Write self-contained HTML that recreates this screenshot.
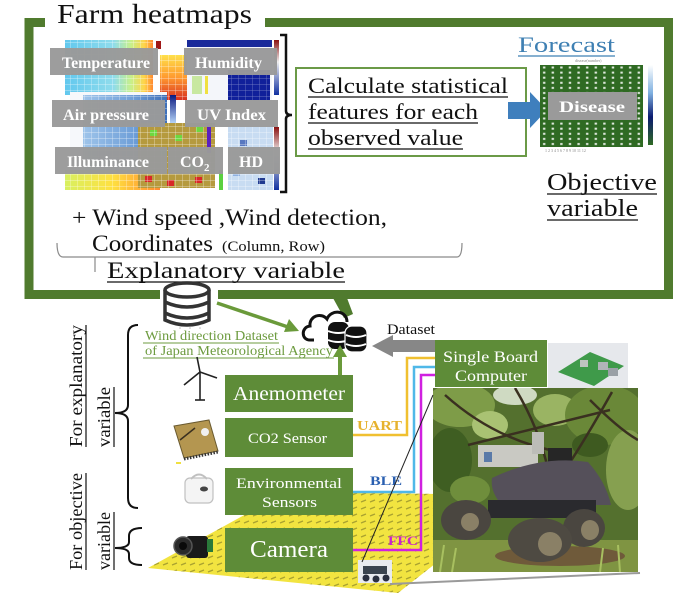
<!DOCTYPE html>
<html>
<head>
<meta charset="utf-8">
<style>
html,body{margin:0;padding:0;background:#fff;}
svg{display:block;}
text{font-family:"Liberation Serif",serif;}
</style>
</head>
<body>
<svg width="694" height="594" viewBox="0 0 694 594" xmlns="http://www.w3.org/2000/svg">
<defs>
  <pattern id="grid" width="7" height="6" patternUnits="userSpaceOnUse">
    <path d="M0,0 H7 M0,0 V6" stroke="#ffffff" stroke-width="0.7" fill="none" opacity="0.8"/>
  </pattern>
  <pattern id="dots" width="8.6" height="5.1" patternUnits="userSpaceOnUse" x="540" y="65">
    <rect x="3" y="1.5" width="2.4" height="2" fill="#ffffff" opacity="0.85"/>
  </pattern>
  <pattern id="field" width="9" height="7" patternUnits="userSpaceOnUse">
    <path d="M1,5 L6,3" stroke="#a9a230" stroke-width="1.4"/>
  </pattern>
  <linearGradient id="gTemp" x1="0" x2="1" y1="0" y2="0">
    <stop offset="0" stop-color="#62c8ee"/>
    <stop offset="0.55" stop-color="#8fdcec"/>
    <stop offset="0.75" stop-color="#c8f08a"/>
    <stop offset="0.9" stop-color="#ffd44a"/>
    <stop offset="1" stop-color="#ff8a30"/>
  </linearGradient>
  <linearGradient id="gPpm" x1="0" x2="0" y1="0" y2="1">
    <stop offset="0" stop-color="#ffe04a"/>
    <stop offset="0.5" stop-color="#ff9a30"/>
    <stop offset="1" stop-color="#d83020"/>
  </linearGradient>
  <linearGradient id="gHum" x1="0" x2="1" y1="0" y2="0">
    <stop offset="0" stop-color="#9ec4ea"/>
    <stop offset="0.6" stop-color="#6f9fd8"/>
    <stop offset="1" stop-color="#3e6fb8"/>
  </linearGradient>
  <linearGradient id="gIll" x1="0" x2="1" y1="0" y2="0">
    <stop offset="0" stop-color="#d8f060"/>
    <stop offset="0.5" stop-color="#ffe040"/>
    <stop offset="1" stop-color="#ff8a30"/>
  </linearGradient>
  <linearGradient id="gCbar" x1="0" x2="0" y1="0" y2="1">
    <stop offset="0" stop-color="#ffffff"/>
    <stop offset="0.35" stop-color="#7fb0e0"/>
    <stop offset="0.65" stop-color="#0a1a70"/>
    <stop offset="1" stop-color="#2f6a23"/>
  </linearGradient>
  <linearGradient id="gRB" x1="0" x2="0" y1="0" y2="1">
    <stop offset="0" stop-color="#8a1010"/>
    <stop offset="0.4" stop-color="#f0f0f0"/>
    <stop offset="1" stop-color="#1030a0"/>
  </linearGradient>
  <linearGradient id="gBlueBar" x1="0" x2="0" y1="0" y2="1">
    <stop offset="0" stop-color="#0a1a80"/>
    <stop offset="1" stop-color="#c0e0ff"/>
  </linearGradient>
  <clipPath id="photoClip"><rect x="433" y="388" width="205" height="184"/></clipPath>
</defs>

<!-- ================= TOP FRAME ================= -->
<rect x="29" y="22.5" width="639.5" height="272" fill="none" stroke="#507b2e" stroke-width="9"/>
<rect x="45" y="10" width="220" height="20" fill="#fff"/>
<text x="57" y="23" font-size="27" textLength="195" lengthAdjust="spacingAndGlyphs" fill="#111">Farm heatmaps</text>

<polygon points="333,298 347,298 353,314 344,318" fill="#507b2e"/>

<!-- ================= HEATMAPS ================= -->
<rect x="65" y="40" width="88" height="55" fill="url(#gTemp)"/>
<rect x="65" y="40" width="88" height="55" fill="url(#grid)"/>
<rect x="156" y="41" width="5" height="8" fill="#a01818"/>
<rect x="160" y="55" width="30" height="45" fill="url(#gPpm)"/>
<rect x="160" y="55" width="30" height="45" fill="url(#grid)"/>
<rect x="187" y="40" width="85" height="60" fill="#f4f6fa"/>
<rect x="187" y="40" width="85" height="7" fill="#1a2a9a"/>
<rect x="205" y="76" width="3" height="18" fill="#f0e040"/>
<rect x="192" y="76" width="10" height="18" fill="#c8e8a0"/>
<rect x="228" y="70" width="42" height="30" fill="#10209a"/>
<rect x="228" y="70" width="42" height="30" fill="url(#grid)" opacity="0.6"/>
<rect x="274" y="40" width="5" height="55" fill="url(#gRB)"/>
<rect x="70" y="92" width="97" height="78" fill="#f6f8fb"/>
<rect x="83" y="95" width="84" height="75" fill="url(#gHum)"/>
<rect x="83" y="95" width="84" height="75" fill="url(#grid)"/>
<rect x="170" y="95" width="6" height="30" fill="url(#gBlueBar)"/>
<rect x="65" y="170" width="95" height="20" fill="url(#gIll)"/>
<rect x="65" y="170" width="95" height="20" fill="url(#grid)"/>
<rect x="138" y="123" width="77" height="65" fill="#b59a3e"/>
<rect x="150" y="130" width="7" height="6" fill="#6ed840"/>
<rect x="175" y="135" width="7" height="6" fill="#6ed840"/>
<rect x="196" y="126" width="7" height="6" fill="#6ed840"/>
<rect x="160" y="150" width="7" height="6" fill="#6ed840"/>
<rect x="188" y="165" width="7" height="6" fill="#6ed840"/>
<rect x="145" y="176" width="7" height="6" fill="#d82828"/>
<rect x="167" y="180" width="7" height="6" fill="#d82828"/>
<rect x="195" y="177" width="7" height="6" fill="#d82828"/>
<rect x="138" y="123" width="77" height="65" fill="url(#grid)"/>
<rect x="207" y="125" width="4" height="28" fill="#5a20c0"/>
<rect x="219" y="170" width="4" height="20" fill="#5ad040"/>
<rect x="228" y="127" width="45" height="63" fill="#c8dcf2"/>
<rect x="240" y="140" width="7" height="6" fill="#5878c0"/>
<rect x="258" y="178" width="7" height="6" fill="#203a90"/>
<rect x="233" y="170" width="7" height="6" fill="#8fb0e0"/>
<rect x="228" y="127" width="45" height="63" fill="url(#grid)"/>
<rect x="274" y="127" width="5" height="63" fill="url(#gRB)"/>

<g fill="#9a9a9a" opacity="0.97">
  <rect x="50" y="48" width="108" height="27"/>
  <rect x="184" y="48" width="93" height="27"/>
  <rect x="52" y="100" width="113" height="27"/>
  <rect x="185" y="100" width="93" height="27"/>
  <rect x="55" y="147" width="112" height="27"/>
  <rect x="168" y="147" width="55" height="27"/>
  <rect x="228" y="147" width="52" height="27"/>
</g>
<g fill="#fff" font-weight="bold" font-size="16">
  <text x="62" y="68" textLength="88" lengthAdjust="spacingAndGlyphs">Temperature</text>
  <text x="195" y="68" textLength="67" lengthAdjust="spacingAndGlyphs">Humidity</text>
  <text x="63" y="120" textLength="86" lengthAdjust="spacingAndGlyphs">Air pressure</text>
  <text x="197" y="120" textLength="69" lengthAdjust="spacingAndGlyphs">UV Index</text>
  <text x="67" y="167" textLength="82" lengthAdjust="spacingAndGlyphs">Illuminance</text>
  <text x="180" y="167">CO<tspan font-size="11" dy="4">2</tspan></text>
  <text x="239" y="167" textLength="24" lengthAdjust="spacingAndGlyphs">HD</text>
</g>

<path d="M280,35 H286 V111 Q286,115 292,115 Q286,115 286,119 V192 H280" fill="none" stroke="#111" stroke-width="2.5"/>

<rect x="296" y="68" width="230" height="88" fill="#fff" stroke="#6b9a47" stroke-width="2"/>
<g font-size="22" fill="#111">
  <text x="308" y="93" textLength="200" lengthAdjust="spacingAndGlyphs">Calculate statistical</text>
  <text x="308" y="119" textLength="170" lengthAdjust="spacingAndGlyphs">features for each</text>
  <text x="308" y="145" textLength="155" lengthAdjust="spacingAndGlyphs">observed value</text>
</g>
<g stroke="#111" stroke-width="1.3">
  <line x1="308" y1="97" x2="508" y2="97"/>
  <line x1="308" y1="123" x2="478" y2="123"/>
  <line x1="308" y1="149" x2="463" y2="149"/>
</g>

<polygon points="508,102 530,102 530,92 547,110 530,128 530,119 508,119" fill="#3f7fbd"/>

<text x="518" y="52" font-size="22" textLength="97" lengthAdjust="spacingAndGlyphs" fill="#3f80b3">Forecast</text>
<line x1="518" y1="56" x2="615" y2="56" stroke="#3f80b3" stroke-width="1.3"/>

<rect x="540" y="65" width="103" height="82" fill="#2f6a23"/>
<rect x="540" y="65" width="103" height="82" fill="url(#dots)"/>
<rect x="648" y="65" width="5" height="80" fill="url(#gCbar)"/>
<g fill="#888" font-size="4">
  <text x="575" y="62">disease(number)</text>
  <text x="545" y="152">1  2  3  4  5  6  7  8  9  10  11  12</text>
</g>
<rect x="548" y="92" width="89" height="28" fill="#9a9a9a"/>
<text x="559" y="112" font-size="16" font-weight="bold" fill="#fff" textLength="66" lengthAdjust="spacingAndGlyphs">Disease</text>

<g font-size="24" fill="#111">
  <text x="547" y="190" textLength="110" lengthAdjust="spacingAndGlyphs">Objective</text>
  <text x="547" y="216" textLength="91" lengthAdjust="spacingAndGlyphs">variable</text>
</g>
<g stroke="#111" stroke-width="1.3">
  <line x1="547" y1="194" x2="657" y2="194"/>
  <line x1="547" y1="220" x2="638" y2="220"/>
</g>

<g fill="#111">
  <text x="72" y="225" font-size="23" textLength="315" lengthAdjust="spacingAndGlyphs">+ Wind speed ,Wind detection,</text>
  <text x="92" y="251" font-size="23" textLength="121" lengthAdjust="spacingAndGlyphs">Coordinates</text>
  <text x="222" y="251" font-size="15" textLength="103" lengthAdjust="spacingAndGlyphs">(Column, Row)</text>
</g>
<path d="M57,243 Q57,257 63,257 H457 Q462,257 462,243 M95,257 V272" fill="none" stroke="#8a8a8a" stroke-width="1.2"/>
<text x="107" y="278" font-size="23" fill="#111" textLength="238" lengthAdjust="spacingAndGlyphs">Explanatory variable</text>
<line x1="107" y1="282" x2="345" y2="282" stroke="#111" stroke-width="1.3"/>

<rect x="160" y="285" width="58" height="16" fill="#fff"/>
<g fill="#fff" stroke="#333" stroke-width="3.5">
  <path d="M165,290 V320 Q187,330 209,320 V290"/>
  <ellipse cx="187" cy="290" rx="22" ry="7"/>
  <path d="M165,302 Q187,312 209,302 M165,313 Q187,323 209,313" fill="none"/>
</g>
<g fill="#bbb"><circle cx="180" cy="328" r="0.8"/><circle cx="190" cy="328" r="0.8"/><circle cx="200" cy="328" r="0.8"/></g>

<line x1="217" y1="303" x2="288" y2="327" stroke="#6a9a3a" stroke-width="3.5"/>
<polygon points="299,331 284,332 289,319" fill="#6a9a3a"/>

<g fill="#6d9b3f" font-size="14">
  <text x="145" y="340" textLength="133" lengthAdjust="spacingAndGlyphs">Wind direction Dataset</text>
  <text x="145" y="355" textLength="188" lengthAdjust="spacingAndGlyphs">of Japan Meteorological Agency</text>
</g>
<g stroke="#6d9b3f" stroke-width="1">
  <line x1="143" y1="343" x2="279" y2="343"/>
  <line x1="143" y1="358" x2="334" y2="358"/>
</g>

<path d="M314,340 H310 C301,340 301,327 310,326 C309,316 321,312 327,319 C331,309 347,310 347,322" fill="none" stroke="#111" stroke-width="3"/>
<g>
  <rect x="328" y="322" width="21" height="27" rx="7" fill="#111"/>
  <path d="M328,331 Q338,335 349,331 M328,340 Q338,344 349,340" stroke="#fff" stroke-width="2" fill="none"/>
  <rect x="345" y="326" width="22" height="26" rx="7" fill="#111" stroke="#fff" stroke-width="1.2"/>
  <path d="M346,335 Q356,339 366,335 M346,344 Q356,348 366,344" stroke="#fff" stroke-width="2" fill="none"/>
</g>

<polygon points="372,346 393,335 393,340 437,340 437,352 393,352 393,357" fill="#878787"/>
<text x="387" y="334" font-size="15" fill="#111" textLength="48" lengthAdjust="spacingAndGlyphs">Dataset</text>

<line x1="340" y1="375" x2="340" y2="355" stroke="#6a9a3a" stroke-width="4"/>
<polygon points="333,357 347,357 340,345" fill="#6a9a3a"/>

<!-- ================= LOWER ================= -->
<polygon points="148,568 286,492 440,494 440,560 398,593" fill="#f2e440"/>
<polygon points="148,568 286,492 440,494 440,560 398,593" fill="url(#field)"/>

<path d="M353,435 H407 V358 H436" fill="none" stroke="#f0c030" stroke-width="2.5"/>
<path d="M353,492 H414 V367 H436" fill="none" stroke="#4fb8e8" stroke-width="2.5"/>
<path d="M353,550 H421 V375 H436" fill="none" stroke="#d020e0" stroke-width="2.5"/>

<g font-weight="bold" font-size="14">
  <text x="357" y="430" fill="#e6b22e" textLength="45" lengthAdjust="spacingAndGlyphs">UART</text>
  <text x="370" y="485" fill="#2a5fb0" font-size="13" textLength="32" lengthAdjust="spacingAndGlyphs">BLE</text>
  <text x="388" y="545" fill="#cc22cc" font-size="13" textLength="30" lengthAdjust="spacingAndGlyphs">FFC</text>
</g>

<g fill="#5e8c38">
  <rect x="225" y="375" width="128" height="37"/>
  <rect x="225" y="418" width="128" height="39"/>
  <rect x="225" y="468" width="128" height="47"/>
  <rect x="225" y="528" width="128" height="44"/>
  <rect x="435" y="340" width="112" height="47"/>
</g>
<g fill="#fff">
  <text x="233" y="400" font-size="20" textLength="112" lengthAdjust="spacingAndGlyphs">Anemometer</text>
  <text x="248" y="443" font-size="15" textLength="79" lengthAdjust="spacingAndGlyphs">CO2 Sensor</text>
  <text x="236" y="488" font-size="15" textLength="106" lengthAdjust="spacingAndGlyphs">Environmental</text>
  <text x="262" y="507" font-size="15" textLength="55" lengthAdjust="spacingAndGlyphs">Sensors</text>
  <text x="250" y="557" font-size="24" textLength="78" lengthAdjust="spacingAndGlyphs">Camera</text>
  <text x="443" y="362" font-size="16" textLength="95" lengthAdjust="spacingAndGlyphs">Single Board</text>
  <text x="455" y="381" font-size="16" textLength="72" lengthAdjust="spacingAndGlyphs">Computer</text>
</g>

<!-- raspberry pi -->
<rect x="548" y="343" width="80" height="45" fill="#e6e8ec"/>
<polygon points="558,372 590,352 624,366 594,386" fill="#3f9a4a"/>
<rect x="598" y="362" width="10" height="8" fill="#b0b4b8"/>
<rect x="608" y="368" width="10" height="8" fill="#9aa0a6"/>
<rect x="580" y="360" width="8" height="7" fill="#bfc4c0"/>

<!-- photo -->
<g clip-path="url(#photoClip)">
  <rect x="433" y="388" width="205" height="184" fill="#54702e"/>
  <ellipse cx="460" cy="405" rx="35" ry="22" fill="#7e9c48"/>
  <ellipse cx="515" cy="395" rx="22" ry="10" fill="#cfdac2"/>
  <ellipse cx="555" cy="410" rx="22" ry="16" fill="#9ab463"/>
  <ellipse cx="605" cy="415" rx="40" ry="30" fill="#6a8838"/>
  <ellipse cx="628" cy="470" rx="22" ry="40" fill="#86a050"/>
  <ellipse cx="450" cy="460" rx="22" ry="32" fill="#3f5e22"/>
  <ellipse cx="490" cy="425" rx="18" ry="14" fill="#a9c273"/>
  <ellipse cx="590" cy="445" rx="18" ry="12" fill="#3e5a20"/>
  <ellipse cx="470" cy="490" rx="20" ry="14" fill="#6f8e3c"/>
  <path d="M445,395 Q495,440 560,452 M515,388 Q540,430 548,470 M612,392 Q585,440 565,470 M468,445 Q520,432 610,410 M590,400 Q620,430 638,440" stroke="#3a3020" stroke-width="2.5" fill="none"/>
  <!-- ground -->
  <rect x="433" y="540" width="205" height="32" fill="#7f9442"/>
  <ellipse cx="560" cy="556" rx="65" ry="10" fill="#6f5a3a"/>
  <path d="M440,572 L444,545 M452,572 L456,548 M600,572 L603,548 M620,572 L618,545" stroke="#a8c060" stroke-width="2"/>
  <!-- robot -->
  <rect x="478" y="445" width="60" height="22" fill="#c9c9c3"/>
  <rect x="484" y="452" width="8" height="10" fill="#5a7aa8"/>
  <rect x="532" y="432" width="12" height="22" fill="#bcbcb8"/>
  <rect x="548" y="448" width="24" height="18" fill="#262626"/>
  <path d="M492,478 Q540,455 588,462 Q606,482 611,505 L502,505 Q490,492 492,478 Z" fill="#55505a"/>
  <rect x="488" y="500" width="108" height="18" fill="#2a2a2e"/>
  <ellipse cx="466" cy="520" rx="25" ry="20" fill="#4a4640"/>
  <ellipse cx="470" cy="522" rx="9" ry="9" fill="#8a8066"/>
  <ellipse cx="584" cy="528" rx="21" ry="19" fill="#4a4640"/>
  <ellipse cx="590" cy="530" rx="9" ry="10" fill="#8a8066"/>
  <ellipse cx="540" cy="540" rx="32" ry="22" fill="#4e4a42"/>
  <ellipse cx="550" cy="544" rx="12" ry="12" fill="#8a8066"/>
</g>
<line x1="390" y1="584" x2="640" y2="573" stroke="#9a9a9a" stroke-width="2"/>

<rect x="358" y="560" width="34" height="23" fill="#e8ebf0"/>
<rect x="363" y="566" width="24" height="8" fill="#3a4450"/>
<circle cx="366" cy="578" r="3.5" fill="#2a3040"/>
<circle cx="376" cy="579" r="3.5" fill="#2a3040"/>
<circle cx="386" cy="578" r="3.5" fill="#2a3040"/>
<line x1="362" y1="562" x2="433" y2="395" stroke="#222" stroke-width="1"/>

<g stroke="#222" fill="none" stroke-width="1.6">
  <line x1="200" y1="372" x2="200" y2="400"/>
  <line x1="200" y1="372" x2="197" y2="357"/>
  <line x1="200" y1="372" x2="184" y2="385"/>
  <line x1="200" y1="372" x2="217" y2="378"/>
  <line x1="195" y1="400" x2="205" y2="400"/>
</g>
<polygon points="174,426 209,420 218,451 184,458" fill="#b49650" stroke="#6a5a30" stroke-width="1"/>
<path d="M180,440 L195,428" stroke="#3a3020" stroke-width="1.5"/>
<circle cx="205" cy="432" r="4" fill="#f0f0f0"/>
<path d="M184,459 L218,452" stroke="#333" stroke-width="3" stroke-dasharray="1.5,1.5"/>
<rect x="176" y="462" width="5" height="2" fill="#f0e040"/>
<rect x="185" y="478" width="28" height="25" rx="5" fill="#f4f4f4" stroke="#c0c0c0" stroke-width="1.2"/>
<path d="M191,479 Q199,470 207,479" fill="none" stroke="#c0c0c0" stroke-width="2"/>
<ellipse cx="204" cy="489" rx="4" ry="2.5" fill="#444"/>
<rect x="186" y="536" width="22" height="22" rx="3" fill="#1a1a1a"/>
<circle cx="183" cy="546" r="9" fill="#2a2a2a" stroke="#555" stroke-width="1.5"/>
<circle cx="183" cy="546" r="4" fill="#0a0a0a"/>
<rect x="207" y="539" width="6" height="13" fill="#2a7a3a"/>

<path d="M138,325 Q128,325 128,335 V405 Q128,413 115,413 Q128,413 128,421 V498 Q128,508 138,508" fill="none" stroke="#111" stroke-width="2"/>
<path d="M142,528 Q129,528 129,536 V542 Q129,548 115,548 Q129,548 129,554 V558 Q129,565 142,565" fill="none" stroke="#111" stroke-width="2"/>

<g font-size="18" fill="#111">
  <text transform="translate(82,447) rotate(-90)" textLength="122" lengthAdjust="spacingAndGlyphs">For explanatory</text>
  <text transform="translate(110,447) rotate(-90)" textLength="60" lengthAdjust="spacingAndGlyphs">variable</text>
  <text transform="translate(82,570) rotate(-90)" textLength="97" lengthAdjust="spacingAndGlyphs">For objective</text>
  <text transform="translate(110,570) rotate(-90)" textLength="58" lengthAdjust="spacingAndGlyphs">variable</text>
</g>
<g stroke="#111" stroke-width="1.2">
  <line x1="86" y1="325" x2="86" y2="447"/>
  <line x1="114" y1="387" x2="114" y2="447"/>
  <line x1="86" y1="473" x2="86" y2="570"/>
  <line x1="114" y1="512" x2="114" y2="570"/>
</g>
</svg>
</body>
</html>
